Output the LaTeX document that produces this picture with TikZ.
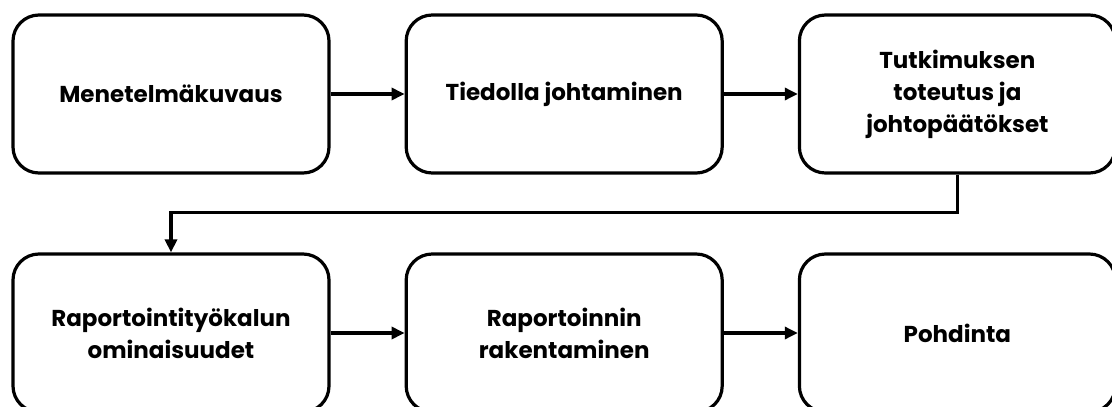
\documentclass[tikz,border=0pt]{standalone}
\usepackage{fontspec}
\setmainfont{Poppins}
\usetikzlibrary{positioning,arrows.meta}
\tikzstyle{vaihe} = [
  draw,
  line width=3.2pt,
  rounded corners=26pt,
  minimum width=316pt,
  minimum height=158pt,
  align=center,
  font=\bfseries\fontsize{23}{32}\selectfont,
]
\tikzstyle{nuoli} = [
  line width=3.2pt,
  -{Triangle[length=13pt,width=12pt]},
]

\begin{document}
\begin{tikzpicture}[x=1pt,y=1pt]
    \def\vali{74pt}
    \useasboundingbox (0,0) rectangle (1112,-407);

    % Top row
    \node[vaihe] (menetelma) at (171,-94) {Menetelmäkuvaus};
    \node[vaihe, right=\vali of menetelma] (tiedolla) {Tiedolla johtaminen};
    \node[vaihe, right=\vali of tiedolla] (toteutus) {Tutkimuksen\\toteutus ja\\johtopäätökset};

    % Bottom row
    \node[vaihe] (ominaisuudet) at (171,-333) {Raportointityökalun\\ominaisuudet};
    \node[vaihe, right=\vali of ominaisuudet] (rakentaminen) {Raportoinnin\\rakentaminen};
    \node[vaihe, right=\vali of rakentaminen] (pohdinta) {Pohdinta};

    % Arrows
    \draw[nuoli] (menetelma) -- (tiedolla);
    \draw[nuoli] (tiedolla) -- (toteutus);
    \draw[nuoli] (toteutus.south) -- ++(0,-38) -| (ominaisuudet.north);
    \draw[nuoli] (ominaisuudet) -- (rakentaminen);
    \draw[nuoli] (rakentaminen) -- (pohdinta);
\end{tikzpicture}
\end{document}
